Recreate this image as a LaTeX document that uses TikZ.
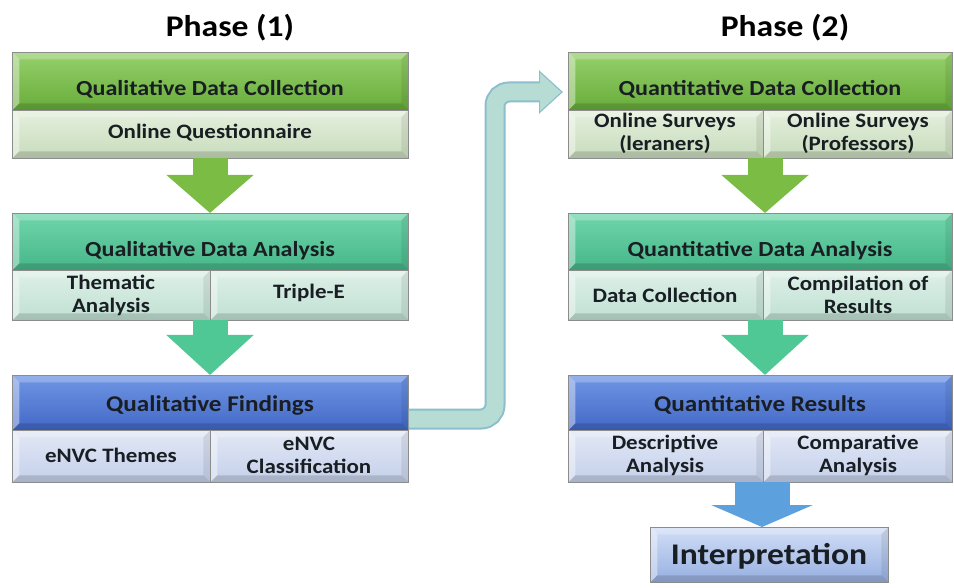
\documentclass[tikz,border=0pt]{standalone}
\usepackage{fontspec}
\setmainfont{Carlito}[FakeStretch=1.12]
\usetikzlibrary{arrows.meta,calc}
\definecolor{gT}{RGB}{150,208,108}\definecolor{gB}{RGB}{104,172,58}
\definecolor{gsT}{RGB}{228,239,220}\definecolor{gsB}{RGB}{200,220,188}
\definecolor{tT}{RGB}{112,214,172}\definecolor{tB}{RGB}{70,182,136}
\definecolor{tsT}{RGB}{222,240,232}\definecolor{tsB}{RGB}{192,224,210}
\definecolor{bT}{RGB}{112,150,228}\definecolor{bB}{RGB}{66,104,200}
\definecolor{bsT}{RGB}{226,232,246}\definecolor{bsB}{RGB}{196,208,234}
\definecolor{iT}{RGB}{210,222,246}\definecolor{iB}{RGB}{150,175,225}
\definecolor{garr}{RGB}{122,188,68}\definecolor{tarr}{RGB}{80,200,150}\definecolor{barr}{RGB}{92,160,222}
\definecolor{conn}{RGB}{182,220,212}\definecolor{connE}{RGB}{140,190,205}\definecolor{txt}{RGB}{25,30,35}
\tikzset{
  bev/.style={path picture={
    \fill[white,opacity=.4] (path picture bounding box.north west) -- (path picture bounding box.south west) -- ([shift={(7pt,7pt)}]path picture bounding box.south west) -- ([shift={(7pt,-7pt)}]path picture bounding box.north west) -- cycle;
    \fill[white,opacity=.25] (path picture bounding box.north west) -- (path picture bounding box.north east) -- ([shift={(-7pt,-7pt)}]path picture bounding box.north east) -- ([shift={(7pt,-7pt)}]path picture bounding box.north west) -- cycle;
    \fill[black,opacity=.08] (path picture bounding box.north east) -- (path picture bounding box.south east) -- ([shift={(-7pt,7pt)}]path picture bounding box.south east) -- ([shift={(-7pt,-7pt)}]path picture bounding box.north east) -- cycle;
    \fill[black,opacity=.14] (path picture bounding box.south west) -- (path picture bounding box.south east) -- ([shift={(-7pt,7pt)}]path picture bounding box.south east) -- ([shift={(7pt,7pt)}]path picture bounding box.south west) -- cycle;
  }},
  box/.style={draw=black!45,line width=0.6pt,anchor=north west,inner sep=0pt,bev},
  hdrG/.style={box,top color=gT,bottom color=gB},
  hdrT/.style={box,top color=tT,bottom color=tB},
  hdrB/.style={box,top color=bT,bottom color=bB},
  subG/.style={box,top color=gsT,bottom color=gsB},
  subT/.style={box,top color=tsT,bottom color=tsB},
  subB/.style={box,top color=bsT,bottom color=bsB},
  htxt/.style={font=\bfseries\fontsize{21.5}{22}\selectfont,text=txt},
  stxt/.style={font=\bfseries\fontsize{20.5}{23}\selectfont,text=txt,align=center},
  ttl/.style={font=\bfseries\fontsize{30}{32}\selectfont,text=black},
}
\begin{document}
\begin{tikzpicture}[x=1pt,y=-1pt]
\useasboundingbox (0,0) rectangle (954,588);
% titles
\node[ttl] (p1) at (230,28) {Phase (1)};
\node[ttl] (p2) at (785,28) {Phase (2)};
% ----- left column
\node[hdrG,minimum width=396,minimum height=58] (l1h) at (12,52) {};
\node[subG,minimum width=396,minimum height=48] (l1s) at (12,110) {};
\node[htxt] (l1ht) at (210,89) {Qualitative Data Collection};
\node[stxt] (l1st) at (210,133) {Online Questionnaire};

\node[hdrT,minimum width=396,minimum height=57] (l2h) at (12,213) {};
\node[subT,minimum width=198,minimum height=50] (l2a) at (12,270) {};
\node[subT,minimum width=198,minimum height=50] (l2b) at (210,270) {};
\node[htxt] (l2ht) at (210,251) {Qualitative Data Analysis};
\node[stxt] (l2at) at (111,295) {Thematic\\Analysis};
\node[stxt] (l2bt) at (309,293) {Triple-E};

\node[hdrB,minimum width=396,minimum height=55] (l3h) at (12,375) {};
\node[subB,minimum width=198,minimum height=52] (l3a) at (12,430) {};
\node[subB,minimum width=198,minimum height=52] (l3b) at (210,430) {};
\node[htxt,font=\bfseries\fontsize{22.5}{23}\selectfont] (l3ht) at (210,405) {Qualitative Findings};
\node[stxt] (l3at) at (111,455) {eNVC Themes};
\node[stxt] (l3bt) at (309,455) {eNVC\\Classification};

% ----- right column
\node[hdrG,minimum width=384,minimum height=58] (r1h) at (568,52) {};
\node[subG,minimum width=195,minimum height=48] (r1a) at (568,110) {};
\node[subG,minimum width=189,minimum height=48] (r1b) at (763,110) {};
\node[htxt] (r1ht) at (760,89) {Quantitative Data Collection};
\node[stxt] (r1at) at (665,133) {Online Surveys\\(leraners)};
\node[stxt] (r1bt) at (858,133) {Online Surveys\\(Professors)};

\node[hdrT,minimum width=384,minimum height=57] (r2h) at (568,213) {};
\node[subT,minimum width=195,minimum height=50] (r2a) at (568,270) {};
\node[subT,minimum width=189,minimum height=50] (r2b) at (763,270) {};
\node[htxt] (r2ht) at (760,251) {Quantitative Data Analysis};
\node[stxt] (r2at) at (665,295) {Data Collection};
\node[stxt] (r2bt) at (858,295) {Compilation of\\Results};

\node[hdrB,minimum width=384,minimum height=55] (r3h) at (568,375) {};
\node[subB,minimum width=195,minimum height=52] (r3a) at (568,430) {};
\node[subB,minimum width=189,minimum height=52] (r3b) at (763,430) {};
\node[htxt,font=\bfseries\fontsize{22.5}{23}\selectfont] (r3ht) at (760,405) {Quantitative Results};
\node[stxt] (r3at) at (665,455) {Descriptive\\Analysis};
\node[stxt] (r3bt) at (858,455) {Comparative\\Analysis};

\node[box,top color=iT,bottom color=iB,minimum width=238,minimum height=55] (interp) at (650,527) {};
\node[font=\bfseries\fontsize{30}{31}\selectfont,text=txt] (interpt) at (769,556) {Interpretation};

% ----- down arrows
\coordinate (la1s) at (210,158); \coordinate (la1e) at (210,213);
\coordinate (la2s) at (210,320); \coordinate (la2e) at (210,375);
\coordinate (ra1s) at (765,158); \coordinate (ra1e) at (765,213);
\coordinate (ra2s) at (765,320); \coordinate (ra2e) at (765,375);
\coordinate (ra3s) at (762,482); \coordinate (ra3e) at (762,527);
\draw[line width=35pt,garr,-{Triangle[width=85pt,length=38pt]}] (la1s) -- (la1e);
\draw[line width=35pt,tarr,-{Triangle[width=85pt,length=40pt]}] (la2s) -- (la2e);
\draw[line width=35pt,garr,-{Triangle[width=85pt,length=38pt]}] (ra1s) -- (ra1e);
\draw[line width=35pt,tarr,-{Triangle[width=85pt,length=40pt]}] (ra2s) -- (ra2e);
\draw[line width=55pt,barr,-{Triangle[width=101pt,length=22pt]}] (ra3s) -- (ra3e);

% ----- connector between phases
\coordinate (cs) at ($(l3h.north east)+(0,44)$);
\coordinate (ct) at ($(r1h.north west)+(-5,40)$);
\coordinate (cx) at (495,0);
\draw[line width=21pt,connE,rounded corners=14,-{Triangle[width=42pt,length=24pt]}]
  (cs) -- (cs -| cx) |- (ct);
\draw[line width=17pt,conn,rounded corners=14,shorten >=2pt,-{Triangle[width=37pt,length=21pt]}]
  ($(cs)+(0.6,0)$) -- (cs -| cx) |- (ct);
\end{tikzpicture}
\end{document}
